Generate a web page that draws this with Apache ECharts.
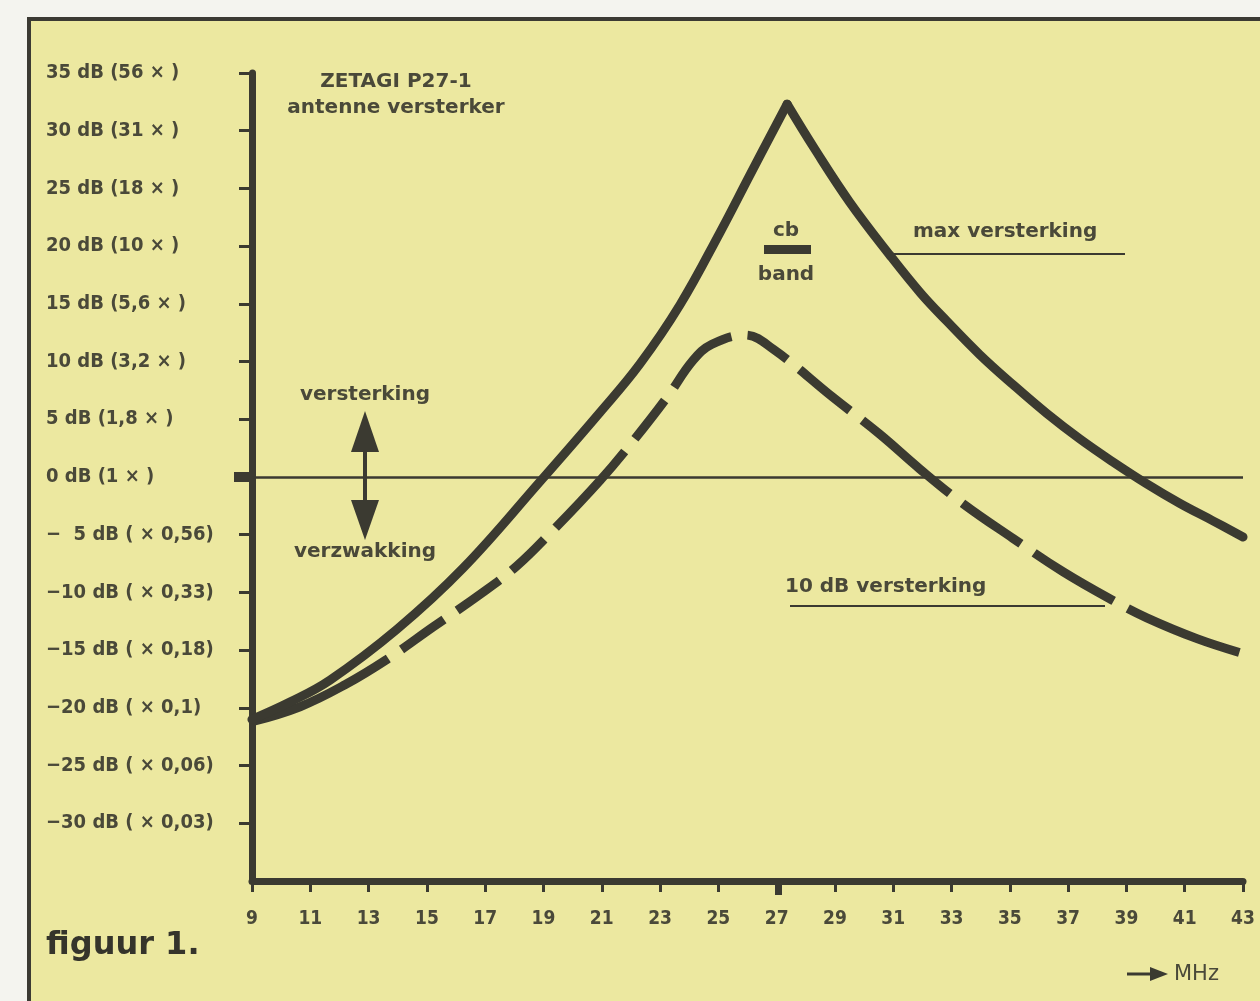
<!DOCTYPE html>
<html>
<head>
<meta charset="utf-8">
<title>figuur 1 - ZETAGI P27-1</title>
<script src="https://cdn.jsdelivr.net/npm/echarts@6/dist/echarts.min.js"></script>
<style>
    body { margin: 0; background: #f4f4ef; }
    #wrap { position: relative; width: 1260px; height: 1001px; overflow: hidden; }
    /* het gele kader van de scan */
    #frame {
        position: absolute; left: 27px; top: 17px; width: 1240px; height: 990px;
        background: #ece8a0; border-top: 4px solid #3b3a33; border-left: 4px solid #3b3a33;
    }
    #chart { position: absolute; left: 0; top: 0; width: 1260px; height: 1001px; }
</style>
</head>
<body>
<div id="wrap">
    <div id="frame"></div>
    <div id="chart"></div>
</div>
<script>
    // x-as: frequentie in MHz
    const xTicks = [9, 11, 13, 15, 17, 19, 21, 23, 25, 27, 29, 31, 33, 35, 37, 39, 41, 43]
    // y-as: versterking in dB
    const yTicks = [35, 30, 25, 20, 15, 10, 5, 0, -5, -10, -15, -20, -25, -30]
    const yTickLabels = [
        '35 dB (56 × )', '30 dB (31 × )', '25 dB (18 × )', '20 dB (10 × )',
        '15 dB (5,6 × )', '10 dB (3,2 × )', '5 dB (1,8 × )', '0 dB (1 × )',
        '−  5 dB ( × 0,56)', '−10 dB ( × 0,33)', '−15 dB ( × 0,18)',
        '−20 dB ( × 0,1)', '−25 dB ( × 0,06)', '−30 dB ( × 0,03)'
    ]

    // max versterking (doorgetrokken lijn)
    const maxFreq = [9, 10.3, 11.67, 13.97, 16.24, 18.88, 20.94, 22.31, 23.68, 25.06, 26.09, 27.36,
        28.31, 29.51, 30.89, 31.95, 32.84, 33.97, 35.11, 36.27, 37.4, 38.54, 39.7, 40.84, 41.97, 43]
    const maxGain = [-21.0, -19.5, -17.6, -13.2, -7.9, -0.4, 5.6, 9.8, 14.9, 21.2, 26.2, 32.3,
        28.4, 23.8, 19.2, 15.9, 13.5, 10.6, 8.0, 5.5, 3.3, 1.3, -0.6, -2.3, -3.8, -5.2]

    // 10 dB versterking (gestreepte lijn)
    const tenFreq = [9, 10.65, 12.19, 13.63, 15.21, 16.92, 18.09, 19.22, 20.94, 22.07, 23.24, 24.13,
        24.78, 25.91, 26.87, 28.93, 30.54, 31.91, 33.39, 35.1, 36.82, 38.54, 39.7, 41.42, 43]
    const tenGain = [-21.2, -19.9, -18.0, -15.8, -13.0, -10.0, -7.7, -4.9, -0.3, 3.1, 6.9, 10.1,
        11.5, 12.3, 11.1, 6.9, 3.7, 0.7, -2.3, -5.3, -8.2, -10.7, -12.2, -14.0, -15.3]

    const ink = '#3b3a31'
    const textInk = '#4a4939'
    const labelFont = '"DejaVu Sans Condensed", "Liberation Sans Narrow", sans-serif'
    const noteFont = 'bold 20px "DejaVu Sans", sans-serif'
    //streepjes van de gestreepte lijn, ongelijk zoals in de tekening
    const dashPattern = [151, 16, 52, 16, 52, 16, 45, 16, 103, 16, 49, 16, 79, 16, 47, 16, 65, 16,
        114, 16, 71, 16, 93, 16, 120, 16]

    //top van de max-curve: de lijn loopt daar in een punt, dus twee stukken
    const peakIdx = maxGain.indexOf(Math.max(...maxGain))
    const maxPoints = maxFreq.map((f, i) => [f, maxGain[i]])
    const tenPoints = tenFreq.map((f, i) => [f, tenGain[i]])

    const chart = echarts.init(document.getElementById('chart'))

    //tekst en hulplijnen op de tekening
    const note = (text, x, y, align) => ({
        type: 'text', z: 10,
        style: {text, x, y, font: noteFont, fill: textInk, textAlign: align || 'center', textVerticalAlign: 'middle'}
    })
    const rule = (x1, y1, x2, y2, w) => ({
        type: 'line', z: 10,
        shape: {x1, y1, x2, y2},
        style: {stroke: ink, lineWidth: w || 2}
    })
    const maxLine = (data, cap) => ({
        name: 'max versterking',
        type: 'line',
        data,
        showSymbol: false,
        smooth: 0.4,
        lineStyle: {color: ink, width: 9, cap}
    })

    const option = {
        animation: false,
        backgroundColor: 'transparent',
        grid: {left: 252, right: 17, top: 73, bottom: 120},
        xAxis: {
            type: 'value',
            min: 9,
            max: 43,
            interval: 1,
            splitLine: {show: false},
            axisLine: {onZero: false, lineStyle: {color: ink, width: 7}},
            axisTick: {customValues: xTicks, length: 11, lineStyle: {color: ink, width: 3}},
            axisLabel: {
                customValues: xTicks,
                margin: 29,
                color: textInk,
                fontFamily: labelFont,
                fontWeight: 'bold',
                fontSize: 19
            }
        },
        yAxis: {
            type: 'value',
            min: -35,
            max: 35,
            interval: 5,
            splitLine: {show: false},
            axisLine: {lineStyle: {color: ink, width: 7}},
            axisTick: {customValues: yTicks, length: 13, lineStyle: {color: ink, width: 3}},
            axisLabel: {
                customValues: yTicks,
                align: 'left',
                margin: 206,
                color: textInk,
                fontFamily: labelFont,
                fontWeight: 'bold',
                fontSize: 20,
                formatter: v => {
                    const i = yTicks.indexOf(v)
                    return i < 0 ? '' : yTickLabels[i]
                }
            }
        },
        series: [
            {
                name: '10 dB versterking',
                type: 'line',
                data: tenPoints,
                showSymbol: false,
                smooth: 0.4,
                lineStyle: {color: ink, width: 9, type: dashPattern, cap: 'butt'}
            },
            Object.assign(maxLine(maxPoints.slice(0, peakIdx + 1), 'round'), {
                //0 dB lijn
                markLine: {
                    silent: true,
                    symbol: ['none', 'none'],
                    label: {show: false},
                    lineStyle: {color: ink, width: 2.5, type: 'solid'},
                    data: [{yAxis: 0}]
                }
            }),
            maxLine(maxPoints.slice(peakIdx), 'round')
        ],
        graphic: [
            note('ZETAGI P27-1', 396, 82),
            note('antenne versterker', 396, 108),
            note('versterking', 365, 395),
            note('verzwakking', 365, 552),
            //dubbele pijl
            rule(365, 440, 365, 512, 4),
            {type: 'polygon', z: 10, shape: {points: [[365, 411], [351, 452], [379, 452]]}, style: {fill: ink}},
            {type: 'polygon', z: 10, shape: {points: [[365, 540], [351, 500], [379, 500]]}, style: {fill: ink}},
            //cb band
            note('cb', 786, 231),
            {type: 'rect', z: 10, shape: {x: 764, y: 245, width: 47, height: 9}, style: {fill: ink}},
            note('band', 786, 275),
            note('max versterking', 913, 232, 'left'),
            rule(890, 254, 1125, 254),
            note('10 dB versterking', 785, 587, 'left'),
            rule(790, 606, 1105, 606),
            //vette streepjes bij 0 dB en 27 MHz
            {type: 'rect', z: 10, shape: {x: 234, y: 472, width: 16, height: 10}, style: {fill: ink}},
            {type: 'rect', z: 10, shape: {x: 775, y: 881, width: 7, height: 14}, style: {fill: ink}},
            //onderschrift
            {
                type: 'text', z: 10,
                style: {text: 'figuur 1.', x: 46, y: 946, font: 'bold 32px "DejaVu Sans", sans-serif',
                    fill: '#35342b', textAlign: 'left', textVerticalAlign: 'middle'}
            },
            rule(1127, 974, 1152, 974, 3),
            {type: 'polygon', z: 10, shape: {points: [[1168, 974], [1150, 967], [1150, 981]]}, style: {fill: ink}},
            {
                type: 'text', z: 10,
                style: {text: 'MHz', x: 1174, y: 975, font: '21px "DejaVu Sans", sans-serif',
                    fill: textInk, textAlign: 'left', textVerticalAlign: 'middle'}
            }
        ]
    }
    chart.setOption(option)
</script>
</body>
</html>
